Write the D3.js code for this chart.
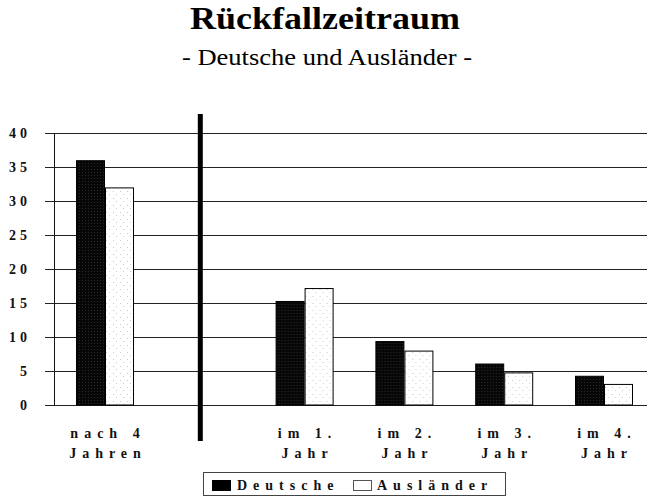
<!DOCTYPE html>
<html><head><meta charset="utf-8">
<script src="https://cdn.jsdelivr.net/npm/d3@7/dist/d3.min.js"></script>
<style>body{margin:0;background:#fff}svg{display:block}
svg text{font-family:"Liberation Serif","Times New Roman",Tinos,"DejaVu Serif",serif}</style>
</head><body><svg id="c" width="647" height="498"></svg>
<script>
const categories = ["nach 4 Jahren", "im 1. Jahr", "im 2. Jahr", "im 3. Jahr", "im 4. Jahr"];
const categoryLines = [["nach 4", "Jahren"], ["im 1.", "Jahr"], ["im 2.", "Jahr"], ["im 3.", "Jahr"], ["im 4.", "Jahr"]];
const seriesNames = ["Deutsche", "Ausländer"];
const deutsche = [36.0, 15.3, 9.4, 6.1, 4.3];
const auslaender = [32.0, 17.2, 8.0, 4.8, 3.1];
const yTicks = [0, 5, 10, 15, 20, 25, 30, 35, 40];
const slots = ["nach 4 Jahren", "divider", "im 1. Jahr", "im 2. Jahr", "im 3. Jahr", "im 4. Jahr"];

const svg = d3.select("#c");
const defs = svg.append("defs");
const pd = defs.append("pattern").attr("id", "pd").attr("width", 3).attr("height", 3).attr("patternUnits", "userSpaceOnUse");
pd.append("rect").attr("width", 3).attr("height", 3).attr("fill", "#070707");
pd.append("rect").attr("x", 1).attr("y", 1).attr("width", 1).attr("height", 1).attr("fill", "#2a2a2a");
const pa = defs.append("pattern").attr("id", "pa").attr("width", 7).attr("height", 7).attr("patternUnits", "userSpaceOnUse");
pa.append("rect").attr("width", 7).attr("height", 7).attr("fill", "#fff");
pa.append("rect").attr("x", 1).attr("y", 2).attr("width", 1).attr("height", 1).attr("fill", "#c8c8c8");
pa.append("rect").attr("x", 4).attr("y", 5).attr("width", 1).attr("height", 1).attr("fill", "#d0d0d0");

const y = d3.scaleLinear().domain([0, 40]).range([405, 133]);
const x = d3.scalePoint().domain(slots).range([105, 604]);
const xs = d3.scaleBand().domain(seriesNames).range([-29, 29]);
const fills = {"Deutsche": "url(#pd)", "Ausländer": "url(#pa)"};

// title
svg.append("text").attr("x", 325).attr("y", 29).attr("text-anchor", "middle")
  .style("font-weight", "bold").style("font-size", "32px")
  .attr("textLength", 270).attr("lengthAdjust", "spacingAndGlyphs").text("Rückfallzeitraum");
svg.append("text").attr("x", 327).attr("y", 65).attr("text-anchor", "middle")
  .style("font-size", "24px")
  .attr("textLength", 290).attr("lengthAdjust", "spacingAndGlyphs").text("- Deutsche und Ausländer -");

// gridlines
svg.append("g").selectAll("line").data(yTicks).join("line")
  .attr("x1", 45).attr("x2", 647).attr("y1", d => y(d)).attr("y2", d => y(d))
  .attr("stroke", "#222").attr("stroke-width", 1).attr("shape-rendering", "crispEdges");
svg.append("line").attr("x1", 54.5).attr("x2", 54.5).attr("y1", y(40)).attr("y2", y(0))
  .attr("stroke", "#111").attr("stroke-width", 1);

// y axis labels
const ya = svg.append("g").attr("transform", "translate(31,0)")
  .call(d3.axisLeft(y).tickValues(yTicks).tickSize(0).tickPadding(0));
ya.select(".domain").remove();
ya.attr("font-family", null).attr("font-size", null);
ya.selectAll("text").style("font-weight", "bold").style("font-size", "14px")
  .attr("letter-spacing", 4).attr("fill", "#111");

// bars
const data = categories.map((c, i) => ({cat: c, vals: [{s: "Deutsche", v: deutsche[i]}, {s: "Ausländer", v: auslaender[i]}]}));
const g = svg.append("g").selectAll("g").data(data).join("g")
  .attr("transform", d => `translate(${x(d.cat)},0)`);
g.selectAll("rect").data(d => d.vals).join("rect")
  .attr("x", d => xs(d.s) + 0.5).attr("width", xs.bandwidth() - 1)
  .attr("y", d => y(d.v) + 0.5).attr("height", d => y(0) - y(d.v) - 0.5)
  .attr("fill", d => fills[d.s]).attr("stroke", "#000").attr("stroke-width", 1);

// divider
svg.append("rect").attr("x", x("divider") - 7).attr("y", 114).attr("width", 5).attr("height", 327).attr("fill", "#000");

// x labels
const ls = 6;
g.each(function(d, i) {
  const t = d3.select(this).append("text").attr("text-anchor", "middle")
    .style("font-weight", "bold").style("font-size", "14px")
    .attr("letter-spacing", ls).attr("fill", "#111");
  categoryLines[i].forEach((line, k) => {
    t.append("tspan").attr("x", ls / 2).attr("y", 438 + k * 20).text(line);
  });
});

// legend
const lg = svg.append("g");
lg.append("rect").attr("x", 203.5).attr("y", 472.5).attr("width", 302).attr("height", 23)
  .attr("fill", "#fff").attr("stroke", "#444").attr("stroke-width", 1);
const legendPos = [{sx: 212, tx: 237}, {sx: 353, tx: 377}];
seriesNames.forEach((s, i) => {
  lg.append("rect").attr("x", legendPos[i].sx + 0.5).attr("y", 480.5).attr("width", 18).attr("height", 10)
    .attr("fill", i === 0 ? "#000" : "#fff").attr("stroke", i === 0 ? "#000" : "#555");
  lg.append("text").attr("x", legendPos[i].tx).attr("y", 490)
    .style("font-weight", "bold").style("font-size", "14px")
    .attr("letter-spacing", 6).attr("fill", "#111").text(s);
});
</script></body></html>
